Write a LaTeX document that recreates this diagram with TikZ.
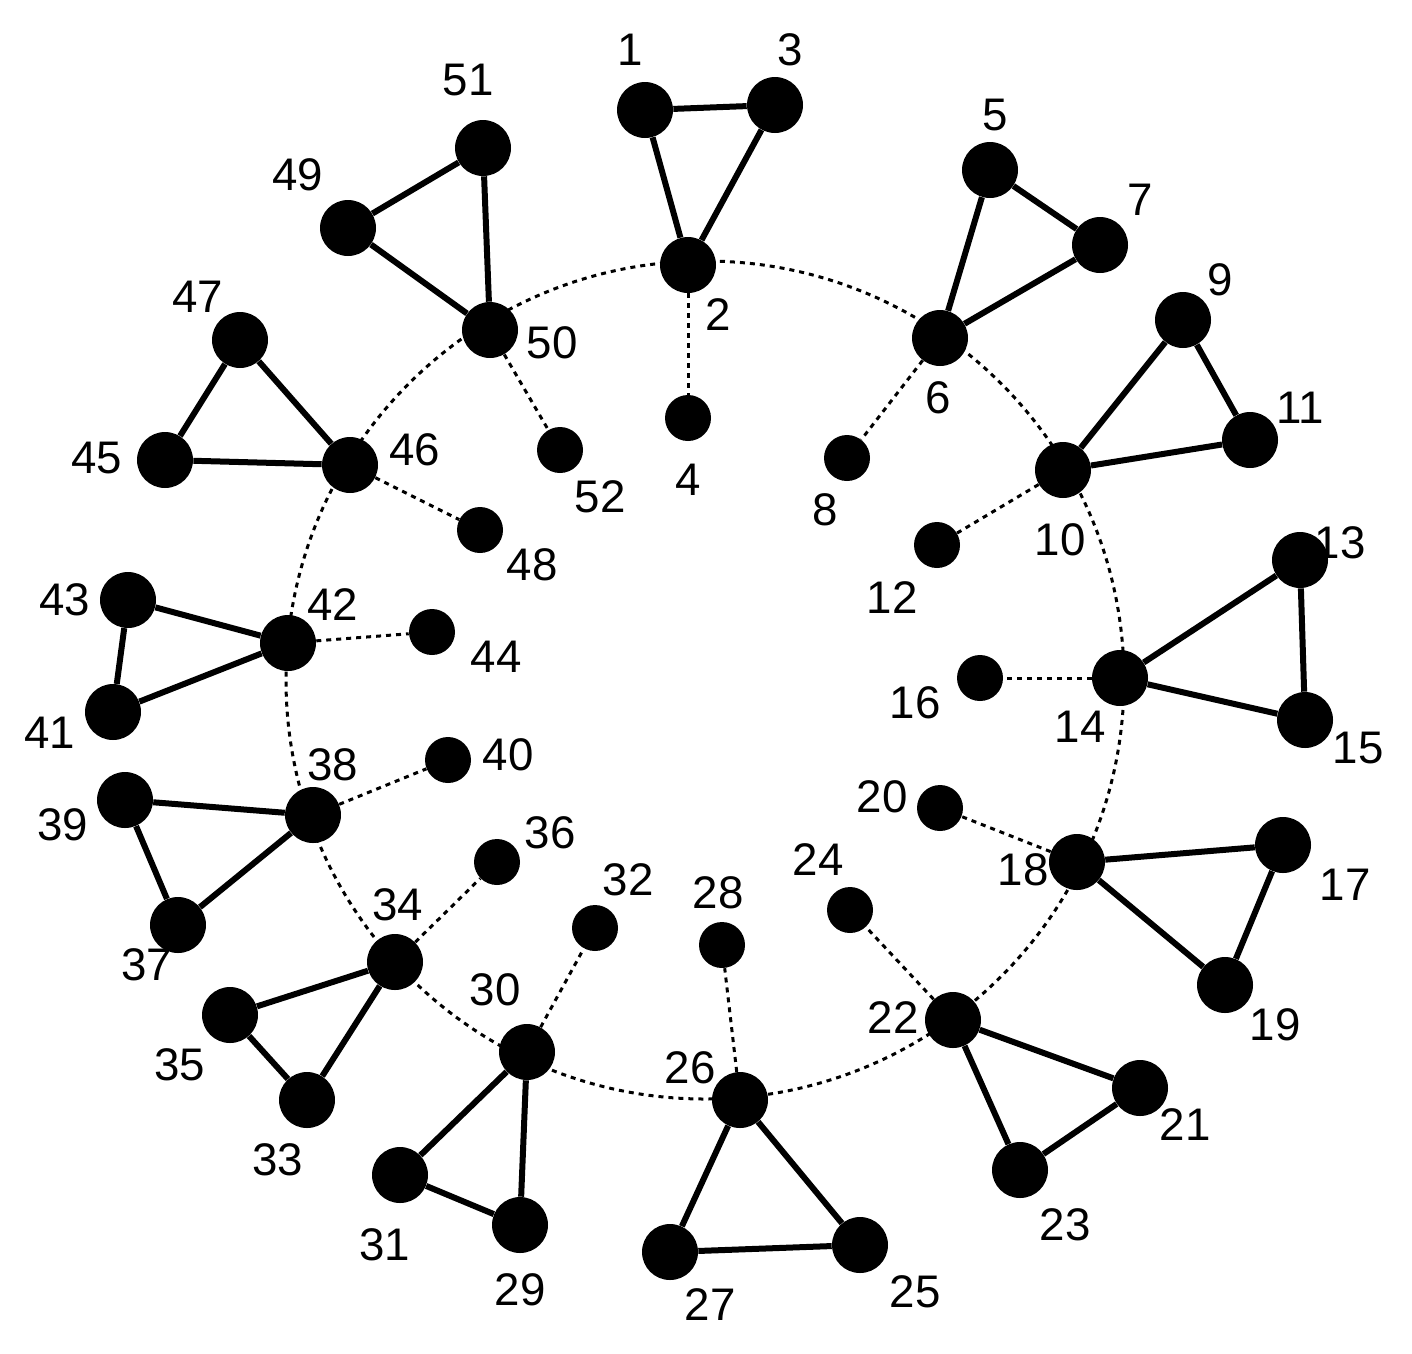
\documentclass[tikz,border=0pt]{standalone}
\usepackage{fontspec}
\setmainfont{Liberation Sans}
\begin{document}
\begin{tikzpicture}[x=0.02cm,y=-0.02cm,
 big/.style={circle,fill=black,inner sep=0pt,minimum size=1.12cm},
 small/.style={circle,fill=black,inner sep=0pt,minimum size=0.92cm},
 lab/.style={font=\fontsize{26}{30}\selectfont},
 tri/.style={line width=0.12cm},
 spoke/.style={line width=0.06cm,dash pattern=on 0.1cm off 0.1cm}]
\useasboundingbox (0,0) rectangle (1412,1353);
\draw[spoke] (705,680) circle[radius=419];
\foreach \n/\x/\y in {1/645/110,3/775/105,2/688/265,5/990/170,7/1100/245,6/940/338,
9/1183/320,11/1250/440,10/1063/470,13/1300/560,15/1305/720,14/1120/678,
17/1283/845,19/1225/985,18/1077/862,21/1140/1088,23/1020/1170,22/953/1020,
25/860/1245,27/670/1252,26/740/1100,29/520/1225,31/400/1175,30/527/1052,
33/307/1100,35/230/1015,34/395/962,37/178/925,39/125/800,38/313/815,
41/113/712,43/128/600,42/288/643,45/165/460,47/240/340,46/350/465,
49/348/228,51/483/148,50/490/330}
 \node[big] (n\n) at (\x,\y) {};
\foreach \n/\x/\y in {4/688/418,8/847/458,12/937/545,16/980/678,20/940/808,24/850/910,
28/722/945,32/595/928,36/497/862,40/448/760,44/432/632,48/480/530,52/560/450}
 \node[small] (n\n) at (\x,\y) {};
\foreach \a/\b/\c in {1/3/2,5/7/6,9/11/10,13/15/14,17/19/18,21/23/22,25/27/26,29/31/30,33/35/34,37/39/38,41/43/42,45/47/46,49/51/50}
 \draw[tri] (n\a)--(n\b) (n\a)--(n\c) (n\b)--(n\c);
\foreach \h/\s in {2/4,6/8,10/12,14/16,18/20,22/24,26/28,30/32,34/36,38/40,42/44,46/48,50/52}
 \draw[spoke] (n\h)--(n\s);
\foreach \n/\x/\y in {1/630/50,3/790/50,2/718/315,5/995/115,7/1140/200,6/938/398,
9/1220/280,11/1300/408,10/1060/540,13/1340/543,15/1358/748,14/1080/727,
17/1345/885,19/1275/1025,18/1023/870,21/1185/1125,23/1065/1225,22/893/1018,
25/915/1292,27/710/1305,26/690/1068,29/520/1290,31/385/1245,33/278/1160,
35/180/1065,30/495/990,34/398/905,37/147/965,39/63/825,38/333/765,41/50/733,
43/65/600,42/333/605,45/97/458,47/198/297,46/415/450,49/298/175,51/468/80,
50/552/343,4/688/480,8/825/510,12/892/598,16/915/703,20/882/797,24/818/860,
28/718/893,32/628/880,36/550/833,40/508/755,44/496/657,48/532/565,52/600/497}
 \node[lab] (l\n) at (\x,\y) {\n};
\end{tikzpicture}
\end{document}
